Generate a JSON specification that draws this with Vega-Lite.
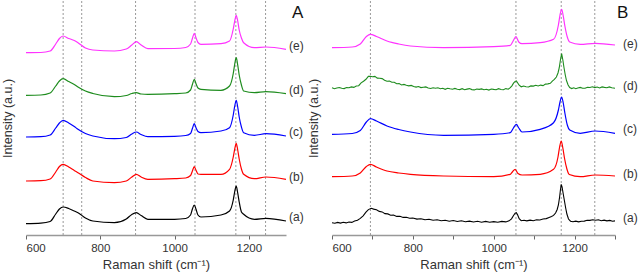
{
"$schema": "https://vega.github.io/schema/vega-lite/v6.json",
"padding": {"left": 1, "top": 0, "right": 0, "bottom": 0},
"bounds": "flush",
"spacing": 46,
"config": {"view": {"stroke": null}, "font": "Liberation Sans"},
"datasets": {
"sp": [
{"p":"A","s":"e","x":600,"y":182.3},{"p":"A","s":"e","x":640,"y":182.5},{"p":"A","s":"e","x":665,"y":184},{"p":"A","s":"e","x":680,"y":191},{"p":"A","s":"e","x":690,"y":196.5},{"p":"A","s":"e","x":700,"y":199},{"p":"A","s":"e","x":715,"y":196.5},{"p":"A","s":"e","x":730,"y":194.5},{"p":"A","s":"e","x":740,"y":192.3},{"p":"A","s":"e","x":760,"y":187},{"p":"A","s":"e","x":780,"y":185},{"p":"A","s":"e","x":838,"y":184},{"p":"A","s":"e","x":870,"y":186},{"p":"A","s":"e","x":885,"y":190},{"p":"A","s":"e","x":897,"y":193.3},{"p":"A","s":"e","x":910,"y":190},{"p":"A","s":"e","x":928,"y":186.3},{"p":"A","s":"e","x":1000,"y":186.5},{"p":"A","s":"e","x":1030,"y":187.5},{"p":"A","s":"e","x":1043,"y":191},{"p":"A","s":"e","x":1048,"y":196.5},{"p":"A","s":"e","x":1053,"y":201.7},{"p":"A","s":"e","x":1058,"y":197},{"p":"A","s":"e","x":1063,"y":192.5},{"p":"A","s":"e","x":1071,"y":190.7},{"p":"A","s":"e","x":1125,"y":191.3},{"p":"A","s":"e","x":1148,"y":194},{"p":"A","s":"e","x":1158,"y":206},{"p":"A","s":"e","x":1162,"y":214},{"p":"A","s":"e","x":1166,"y":219.7},{"p":"A","s":"e","x":1170,"y":214},{"p":"A","s":"e","x":1174,"y":205},{"p":"A","s":"e","x":1180,"y":197},{"p":"A","s":"e","x":1186,"y":192.3},{"p":"A","s":"e","x":1215,"y":187.3},{"p":"A","s":"e","x":1246,"y":188},{"p":"A","s":"e","x":1300,"y":185.7},

{"p":"A","s":"d","x":600,"y":139.7},{"p":"A","s":"d","x":640,"y":140},{"p":"A","s":"d","x":665,"y":142},{"p":"A","s":"d","x":680,"y":149},{"p":"A","s":"d","x":690,"y":154},{"p":"A","s":"d","x":700,"y":156.3},{"p":"A","s":"d","x":715,"y":153.5},{"p":"A","s":"d","x":730,"y":150.5},{"p":"A","s":"d","x":740,"y":148},{"p":"A","s":"d","x":760,"y":144},{"p":"A","s":"d","x":780,"y":141.5},{"p":"A","s":"d","x":838,"y":138.3},{"p":"A","s":"d","x":870,"y":139.5},{"p":"A","s":"d","x":885,"y":141.5},{"p":"A","s":"d","x":897,"y":142.3},{"p":"A","s":"d","x":910,"y":141},{"p":"A","s":"d","x":928,"y":140.7},{"p":"A","s":"d","x":1000,"y":141.3},{"p":"A","s":"d","x":1030,"y":142},{"p":"A","s":"d","x":1043,"y":145},{"p":"A","s":"d","x":1048,"y":150.5},{"p":"A","s":"d","x":1053,"y":155.7},{"p":"A","s":"d","x":1058,"y":151},{"p":"A","s":"d","x":1063,"y":147},{"p":"A","s":"d","x":1071,"y":145.7},{"p":"A","s":"d","x":1125,"y":144.7},{"p":"A","s":"d","x":1148,"y":149},{"p":"A","s":"d","x":1158,"y":161.5},{"p":"A","s":"d","x":1162,"y":171},{"p":"A","s":"d","x":1166,"y":177.3},{"p":"A","s":"d","x":1170,"y":170},{"p":"A","s":"d","x":1174,"y":160},{"p":"A","s":"d","x":1180,"y":150},{"p":"A","s":"d","x":1186,"y":144},{"p":"A","s":"d","x":1215,"y":142.3},{"p":"A","s":"d","x":1246,"y":143.3},{"p":"A","s":"d","x":1300,"y":141.3},

{"p":"A","s":"c","x":600,"y":98},{"p":"A","s":"c","x":640,"y":98.3},{"p":"A","s":"c","x":665,"y":100},{"p":"A","s":"c","x":680,"y":107},{"p":"A","s":"c","x":690,"y":112},{"p":"A","s":"c","x":700,"y":114.7},{"p":"A","s":"c","x":715,"y":112},{"p":"A","s":"c","x":730,"y":108.5},{"p":"A","s":"c","x":740,"y":105.7},{"p":"A","s":"c","x":760,"y":101.5},{"p":"A","s":"c","x":780,"y":99},{"p":"A","s":"c","x":838,"y":96.3},{"p":"A","s":"c","x":870,"y":97.5},{"p":"A","s":"c","x":885,"y":101},{"p":"A","s":"c","x":897,"y":103},{"p":"A","s":"c","x":910,"y":100.5},{"p":"A","s":"c","x":928,"y":98.3},{"p":"A","s":"c","x":1000,"y":98.7},{"p":"A","s":"c","x":1030,"y":99.5},{"p":"A","s":"c","x":1043,"y":101.5},{"p":"A","s":"c","x":1048,"y":106.5},{"p":"A","s":"c","x":1053,"y":111.3},{"p":"A","s":"c","x":1058,"y":107},{"p":"A","s":"c","x":1063,"y":103.5},{"p":"A","s":"c","x":1071,"y":102.3},{"p":"A","s":"c","x":1125,"y":104},{"p":"A","s":"c","x":1148,"y":107.3},{"p":"A","s":"c","x":1158,"y":120},{"p":"A","s":"c","x":1162,"y":129},{"p":"A","s":"c","x":1166,"y":134.7},{"p":"A","s":"c","x":1170,"y":128},{"p":"A","s":"c","x":1174,"y":118},{"p":"A","s":"c","x":1180,"y":108},{"p":"A","s":"c","x":1186,"y":102.3},{"p":"A","s":"c","x":1215,"y":99.7},{"p":"A","s":"c","x":1246,"y":101.3},{"p":"A","s":"c","x":1300,"y":99},

{"p":"A","s":"b","x":600,"y":54},{"p":"A","s":"b","x":640,"y":54.3},{"p":"A","s":"b","x":665,"y":56},{"p":"A","s":"b","x":680,"y":63},{"p":"A","s":"b","x":690,"y":68.5},{"p":"A","s":"b","x":700,"y":70.7},{"p":"A","s":"b","x":715,"y":68},{"p":"A","s":"b","x":730,"y":64.5},{"p":"A","s":"b","x":740,"y":62.3},{"p":"A","s":"b","x":760,"y":57.5},{"p":"A","s":"b","x":780,"y":54},{"p":"A","s":"b","x":838,"y":52.3},{"p":"A","s":"b","x":870,"y":54},{"p":"A","s":"b","x":885,"y":58},{"p":"A","s":"b","x":897,"y":60.7},{"p":"A","s":"b","x":910,"y":58},{"p":"A","s":"b","x":928,"y":55.7},{"p":"A","s":"b","x":1000,"y":56.3},{"p":"A","s":"b","x":1030,"y":57},{"p":"A","s":"b","x":1043,"y":59.5},{"p":"A","s":"b","x":1048,"y":64},{"p":"A","s":"b","x":1053,"y":68.3},{"p":"A","s":"b","x":1058,"y":64.5},{"p":"A","s":"b","x":1063,"y":61},{"p":"A","s":"b","x":1071,"y":60.7},{"p":"A","s":"b","x":1125,"y":60.7},{"p":"A","s":"b","x":1148,"y":65.7},{"p":"A","s":"b","x":1158,"y":78},{"p":"A","s":"b","x":1162,"y":86},{"p":"A","s":"b","x":1166,"y":91.7},{"p":"A","s":"b","x":1170,"y":85},{"p":"A","s":"b","x":1174,"y":76},{"p":"A","s":"b","x":1180,"y":66},{"p":"A","s":"b","x":1186,"y":60.7},{"p":"A","s":"b","x":1215,"y":56.3},{"p":"A","s":"b","x":1246,"y":58},{"p":"A","s":"b","x":1300,"y":55.7},

{"p":"A","s":"a","x":600,"y":11.3},{"p":"A","s":"a","x":640,"y":11.8},{"p":"A","s":"a","x":665,"y":13.5},{"p":"A","s":"a","x":680,"y":21},{"p":"A","s":"a","x":690,"y":26},{"p":"A","s":"a","x":700,"y":28},{"p":"A","s":"a","x":715,"y":26.5},{"p":"A","s":"a","x":730,"y":24},{"p":"A","s":"a","x":740,"y":22.3},{"p":"A","s":"a","x":760,"y":17},{"p":"A","s":"a","x":780,"y":14},{"p":"A","s":"a","x":838,"y":12.3},{"p":"A","s":"a","x":870,"y":16},{"p":"A","s":"a","x":885,"y":20.5},{"p":"A","s":"a","x":897,"y":22.3},{"p":"A","s":"a","x":910,"y":19.5},{"p":"A","s":"a","x":928,"y":15.7},{"p":"A","s":"a","x":1000,"y":15.7},{"p":"A","s":"a","x":1030,"y":16.5},{"p":"A","s":"a","x":1043,"y":20},{"p":"A","s":"a","x":1048,"y":26},{"p":"A","s":"a","x":1053,"y":30},{"p":"A","s":"a","x":1058,"y":25.5},{"p":"A","s":"a","x":1063,"y":20},{"p":"A","s":"a","x":1071,"y":18},{"p":"A","s":"a","x":1125,"y":20},{"p":"A","s":"a","x":1148,"y":24},{"p":"A","s":"a","x":1158,"y":35},{"p":"A","s":"a","x":1162,"y":43.5},{"p":"A","s":"a","x":1166,"y":49},{"p":"A","s":"a","x":1170,"y":42},{"p":"A","s":"a","x":1174,"y":33},{"p":"A","s":"a","x":1180,"y":23},{"p":"A","s":"a","x":1186,"y":20.7},{"p":"A","s":"a","x":1215,"y":15.7},{"p":"A","s":"a","x":1246,"y":16.7},{"p":"A","s":"a","x":1300,"y":14},

{"p":"B","s":"e","x":600,"y":187.3},{"p":"B","s":"e","x":650,"y":188},{"p":"B","s":"e","x":670,"y":191},{"p":"B","s":"e","x":685,"y":198.5},{"p":"B","s":"e","x":695,"y":200.7},{"p":"B","s":"e","x":710,"y":198.5},{"p":"B","s":"e","x":736,"y":194},{"p":"B","s":"e","x":765,"y":191},{"p":"B","s":"e","x":794,"y":189},{"p":"B","s":"e","x":876,"y":187.3},{"p":"B","s":"e","x":1000,"y":188.3},{"p":"B","s":"e","x":1041,"y":189.7},{"p":"B","s":"e","x":1048,"y":194},{"p":"B","s":"e","x":1055,"y":198.3},{"p":"B","s":"e","x":1062,"y":193},{"p":"B","s":"e","x":1070,"y":191.3},{"p":"B","s":"e","x":1115,"y":192.3},{"p":"B","s":"e","x":1148,"y":195.7},{"p":"B","s":"e","x":1160,"y":210},{"p":"B","s":"e","x":1164,"y":220},{"p":"B","s":"e","x":1168,"y":225.7},{"p":"B","s":"e","x":1172,"y":219},{"p":"B","s":"e","x":1176,"y":209},{"p":"B","s":"e","x":1182,"y":198},{"p":"B","s":"e","x":1188,"y":193},{"p":"B","s":"e","x":1214,"y":190.7},{"p":"B","s":"e","x":1251,"y":191.7},{"p":"B","s":"e","x":1300,"y":190},

{"p":"B","s":"d","x":600,"y":147.2},{"p":"B","s":"d","x":606,"y":146.3},{"p":"B","s":"d","x":612,"y":147},{"p":"B","s":"d","x":618,"y":147.5},{"p":"B","s":"d","x":624,"y":146.7},{"p":"B","s":"d","x":630,"y":146.4},{"p":"B","s":"d","x":636,"y":147.4},{"p":"B","s":"d","x":642,"y":147.2},{"p":"B","s":"d","x":648,"y":148.1},{"p":"B","s":"d","x":654,"y":147.6},{"p":"B","s":"d","x":660,"y":149},{"p":"B","s":"d","x":666,"y":149.3},{"p":"B","s":"d","x":672,"y":152.2},{"p":"B","s":"d","x":678,"y":153.8},{"p":"B","s":"d","x":684,"y":155.7},{"p":"B","s":"d","x":690,"y":158.6},{"p":"B","s":"d","x":695,"y":158.8},{"p":"B","s":"d","x":700,"y":158.3},{"p":"B","s":"d","x":706,"y":158.6},{"p":"B","s":"d","x":712,"y":156.9},{"p":"B","s":"d","x":718,"y":156.7},{"p":"B","s":"d","x":724,"y":156.4},{"p":"B","s":"d","x":730,"y":154.7},{"p":"B","s":"d","x":736,"y":153.7},{"p":"B","s":"d","x":742,"y":153.9},{"p":"B","s":"d","x":748,"y":152.8},{"p":"B","s":"d","x":754,"y":152.8},{"p":"B","s":"d","x":760,"y":151.3},{"p":"B","s":"d","x":766,"y":151.4},{"p":"B","s":"d","x":772,"y":150},{"p":"B","s":"d","x":778,"y":150.6},{"p":"B","s":"d","x":784,"y":149.8},{"p":"B","s":"d","x":790,"y":149.1},{"p":"B","s":"d","x":796,"y":149.6},{"p":"B","s":"d","x":802,"y":148.5},{"p":"B","s":"d","x":808,"y":147.9},{"p":"B","s":"d","x":814,"y":148.5},{"p":"B","s":"d","x":820,"y":147.4},{"p":"B","s":"d","x":826,"y":147.8},{"p":"B","s":"d","x":832,"y":148.1},{"p":"B","s":"d","x":838,"y":147},{"p":"B","s":"d","x":844,"y":146.5},{"p":"B","s":"d","x":850,"y":147.3},{"p":"B","s":"d","x":856,"y":146.7},{"p":"B","s":"d","x":862,"y":147.2},{"p":"B","s":"d","x":868,"y":146.2},{"p":"B","s":"d","x":874,"y":146.7},{"p":"B","s":"d","x":880,"y":145.7},{"p":"B","s":"d","x":886,"y":146.7},{"p":"B","s":"d","x":892,"y":146.2},{"p":"B","s":"d","x":898,"y":145.8},{"p":"B","s":"d","x":904,"y":146.6},{"p":"B","s":"d","x":910,"y":145.8},{"p":"B","s":"d","x":916,"y":145.4},{"p":"B","s":"d","x":922,"y":146.3},{"p":"B","s":"d","x":928,"y":145.3},{"p":"B","s":"d","x":934,"y":145.9},{"p":"B","s":"d","x":940,"y":146.4},{"p":"B","s":"d","x":946,"y":145.4},{"p":"B","s":"d","x":952,"y":145.1},{"p":"B","s":"d","x":958,"y":146},{"p":"B","s":"d","x":964,"y":145.6},{"p":"B","s":"d","x":970,"y":146.1},{"p":"B","s":"d","x":976,"y":145.2},{"p":"B","s":"d","x":982,"y":145.8},{"p":"B","s":"d","x":988,"y":144.9},{"p":"B","s":"d","x":994,"y":146},{"p":"B","s":"d","x":1000,"y":145.6},{"p":"B","s":"d","x":1006,"y":145.3},{"p":"B","s":"d","x":1012,"y":146.3},{"p":"B","s":"d","x":1018,"y":145.5},{"p":"B","s":"d","x":1024,"y":145.3},{"p":"B","s":"d","x":1030,"y":146.4},{"p":"B","s":"d","x":1036,"y":145.8},{"p":"B","s":"d","x":1041,"y":147.3},{"p":"B","s":"d","x":1045,"y":149.2},{"p":"B","s":"d","x":1049,"y":151.8},{"p":"B","s":"d","x":1053,"y":153.6},{"p":"B","s":"d","x":1056,"y":154},{"p":"B","s":"d","x":1059,"y":152.3},{"p":"B","s":"d","x":1063,"y":149.8},{"p":"B","s":"d","x":1068,"y":148.2},{"p":"B","s":"d","x":1074,"y":149},{"p":"B","s":"d","x":1080,"y":148.2},{"p":"B","s":"d","x":1086,"y":148},{"p":"B","s":"d","x":1092,"y":149.1},{"p":"B","s":"d","x":1098,"y":148.9},{"p":"B","s":"d","x":1104,"y":149.7},{"p":"B","s":"d","x":1110,"y":149},{"p":"B","s":"d","x":1116,"y":149.9},{"p":"B","s":"d","x":1122,"y":149.4},{"p":"B","s":"d","x":1128,"y":150.9},{"p":"B","s":"d","x":1134,"y":151.1},{"p":"B","s":"d","x":1140,"y":151.7},{"p":"B","s":"d","x":1145,"y":153.8},{"p":"B","s":"d","x":1150,"y":155.6},{"p":"B","s":"d","x":1155,"y":158},{"p":"B","s":"d","x":1159,"y":162},{"p":"B","s":"d","x":1162,"y":167},{"p":"B","s":"d","x":1165,"y":175},{"p":"B","s":"d","x":1168,"y":181.3},{"p":"B","s":"d","x":1171,"y":175},{"p":"B","s":"d","x":1174,"y":167},{"p":"B","s":"d","x":1177,"y":160},{"p":"B","s":"d","x":1180,"y":154.5},{"p":"B","s":"d","x":1184,"y":150},{"p":"B","s":"d","x":1188,"y":147.5},{"p":"B","s":"d","x":1193,"y":146.4},{"p":"B","s":"d","x":1198,"y":147.2},{"p":"B","s":"d","x":1203,"y":146.3},{"p":"B","s":"d","x":1208,"y":147},{"p":"B","s":"d","x":1214,"y":147.6},{"p":"B","s":"d","x":1220,"y":146.8},{"p":"B","s":"d","x":1226,"y":146.7},{"p":"B","s":"d","x":1232,"y":147.8},{"p":"B","s":"d","x":1238,"y":147.5},{"p":"B","s":"d","x":1244,"y":148.2},{"p":"B","s":"d","x":1250,"y":147.4},{"p":"B","s":"d","x":1256,"y":148},{"p":"B","s":"d","x":1262,"y":147.1},{"p":"B","s":"d","x":1268,"y":148.1},{"p":"B","s":"d","x":1274,"y":147.6},{"p":"B","s":"d","x":1280,"y":147.2},{"p":"B","s":"d","x":1286,"y":148.1},{"p":"B","s":"d","x":1292,"y":147.2},{"p":"B","s":"d","x":1300,"y":146.8},

{"p":"B","s":"c","x":600,"y":100.7},{"p":"B","s":"c","x":650,"y":101.5},{"p":"B","s":"c","x":670,"y":104.5},{"p":"B","s":"c","x":685,"y":113},{"p":"B","s":"c","x":695,"y":116.3},{"p":"B","s":"c","x":710,"y":114},{"p":"B","s":"c","x":736,"y":109},{"p":"B","s":"c","x":765,"y":105.5},{"p":"B","s":"c","x":794,"y":103},{"p":"B","s":"c","x":876,"y":99.7},{"p":"B","s":"c","x":1000,"y":100.7},{"p":"B","s":"c","x":1041,"y":102.3},{"p":"B","s":"c","x":1048,"y":106.5},{"p":"B","s":"c","x":1056,"y":110.7},{"p":"B","s":"c","x":1062,"y":107},{"p":"B","s":"c","x":1070,"y":103},{"p":"B","s":"c","x":1115,"y":105.7},{"p":"B","s":"c","x":1148,"y":112.3},{"p":"B","s":"c","x":1160,"y":125},{"p":"B","s":"c","x":1164,"y":133},{"p":"B","s":"c","x":1168,"y":138},{"p":"B","s":"c","x":1172,"y":132},{"p":"B","s":"c","x":1176,"y":122},{"p":"B","s":"c","x":1182,"y":110},{"p":"B","s":"c","x":1188,"y":105},{"p":"B","s":"c","x":1214,"y":101.7},{"p":"B","s":"c","x":1251,"y":104},{"p":"B","s":"c","x":1300,"y":101.7},

{"p":"B","s":"b","x":600,"y":58.3},{"p":"B","s":"b","x":650,"y":59},{"p":"B","s":"b","x":670,"y":62},{"p":"B","s":"b","x":685,"y":68.5},{"p":"B","s":"b","x":695,"y":70.7},{"p":"B","s":"b","x":710,"y":68},{"p":"B","s":"b","x":736,"y":64},{"p":"B","s":"b","x":765,"y":62},{"p":"B","s":"b","x":794,"y":60.7},{"p":"B","s":"b","x":876,"y":59},{"p":"B","s":"b","x":1000,"y":58.3},{"p":"B","s":"b","x":1041,"y":60.7},{"p":"B","s":"b","x":1047,"y":63.5},{"p":"B","s":"b","x":1053,"y":65.7},{"p":"B","s":"b","x":1060,"y":61.5},{"p":"B","s":"b","x":1070,"y":60},{"p":"B","s":"b","x":1115,"y":60.7},{"p":"B","s":"b","x":1148,"y":65.7},{"p":"B","s":"b","x":1159,"y":78},{"p":"B","s":"b","x":1163,"y":88},{"p":"B","s":"b","x":1167,"y":94},{"p":"B","s":"b","x":1171,"y":87},{"p":"B","s":"b","x":1175,"y":77},{"p":"B","s":"b","x":1181,"y":66},{"p":"B","s":"b","x":1187,"y":60.5},{"p":"B","s":"b","x":1214,"y":58.3},{"p":"B","s":"b","x":1251,"y":60},{"p":"B","s":"b","x":1300,"y":59},

{"p":"B","s":"a","x":600,"y":12.3},{"p":"B","s":"a","x":607,"y":11.7},{"p":"B","s":"a","x":614,"y":12.6},{"p":"B","s":"a","x":621,"y":11.9},{"p":"B","s":"a","x":628,"y":12.8},{"p":"B","s":"a","x":635,"y":12.1},{"p":"B","s":"a","x":642,"y":13},{"p":"B","s":"a","x":649,"y":12.6},{"p":"B","s":"a","x":656,"y":13.9},{"p":"B","s":"a","x":663,"y":14.8},{"p":"B","s":"a","x":670,"y":16.6},{"p":"B","s":"a","x":677,"y":19.2},{"p":"B","s":"a","x":684,"y":22.8},{"p":"B","s":"a","x":690,"y":25.4},{"p":"B","s":"a","x":697,"y":26.7},{"p":"B","s":"a","x":703,"y":25.9},{"p":"B","s":"a","x":710,"y":25.2},{"p":"B","s":"a","x":717,"y":23.6},{"p":"B","s":"a","x":724,"y":23.1},{"p":"B","s":"a","x":731,"y":21.4},{"p":"B","s":"a","x":738,"y":21.1},{"p":"B","s":"a","x":745,"y":19.8},{"p":"B","s":"a","x":752,"y":20},{"p":"B","s":"a","x":760,"y":18.6},{"p":"B","s":"a","x":768,"y":18.7},{"p":"B","s":"a","x":776,"y":17.6},{"p":"B","s":"a","x":784,"y":17.8},{"p":"B","s":"a","x":792,"y":16.7},{"p":"B","s":"a","x":800,"y":17},{"p":"B","s":"a","x":810,"y":15.9},{"p":"B","s":"a","x":820,"y":16.3},{"p":"B","s":"a","x":830,"y":15.2},{"p":"B","s":"a","x":840,"y":15.7},{"p":"B","s":"a","x":850,"y":14.7},{"p":"B","s":"a","x":860,"y":15.2},{"p":"B","s":"a","x":870,"y":14.2},{"p":"B","s":"a","x":880,"y":14.8},{"p":"B","s":"a","x":890,"y":13.8},{"p":"B","s":"a","x":900,"y":14.5},{"p":"B","s":"a","x":910,"y":13.5},{"p":"B","s":"a","x":920,"y":14.2},{"p":"B","s":"a","x":930,"y":13.3},{"p":"B","s":"a","x":940,"y":13.9},{"p":"B","s":"a","x":950,"y":13},{"p":"B","s":"a","x":960,"y":13.7},{"p":"B","s":"a","x":970,"y":12.8},{"p":"B","s":"a","x":980,"y":13.6},{"p":"B","s":"a","x":990,"y":12.7},{"p":"B","s":"a","x":1000,"y":13.4},{"p":"B","s":"a","x":1010,"y":12.7},{"p":"B","s":"a","x":1020,"y":13.6},{"p":"B","s":"a","x":1030,"y":13.1},{"p":"B","s":"a","x":1038,"y":14.2},{"p":"B","s":"a","x":1044,"y":16.2},{"p":"B","s":"a","x":1049,"y":19.5},{"p":"B","s":"a","x":1053,"y":21.8},{"p":"B","s":"a","x":1056,"y":22.3},{"p":"B","s":"a","x":1059,"y":20.2},{"p":"B","s":"a","x":1063,"y":16.3},{"p":"B","s":"a","x":1068,"y":14.3},{"p":"B","s":"a","x":1075,"y":14.8},{"p":"B","s":"a","x":1082,"y":14.1},{"p":"B","s":"a","x":1090,"y":14.9},{"p":"B","s":"a","x":1098,"y":14.3},{"p":"B","s":"a","x":1106,"y":15.2},{"p":"B","s":"a","x":1114,"y":15},{"p":"B","s":"a","x":1122,"y":16},{"p":"B","s":"a","x":1130,"y":16.4},{"p":"B","s":"a","x":1137,"y":17.6},{"p":"B","s":"a","x":1143,"y":18.6},{"p":"B","s":"a","x":1148,"y":19.6},{"p":"B","s":"a","x":1153,"y":22},{"p":"B","s":"a","x":1157,"y":25.5},{"p":"B","s":"a","x":1160,"y":30},{"p":"B","s":"a","x":1163,"y":38},{"p":"B","s":"a","x":1165,"y":45},{"p":"B","s":"a","x":1167,"y":50.7},{"p":"B","s":"a","x":1169,"y":48},{"p":"B","s":"a","x":1172,"y":41},{"p":"B","s":"a","x":1175,"y":34},{"p":"B","s":"a","x":1178,"y":27},{"p":"B","s":"a","x":1181,"y":21},{"p":"B","s":"a","x":1185,"y":16},{"p":"B","s":"a","x":1190,"y":13.8},{"p":"B","s":"a","x":1196,"y":13.2},{"p":"B","s":"a","x":1203,"y":13.9},{"p":"B","s":"a","x":1210,"y":13.1},{"p":"B","s":"a","x":1217,"y":13.8},{"p":"B","s":"a","x":1224,"y":13.9},{"p":"B","s":"a","x":1231,"y":14.7},{"p":"B","s":"a","x":1238,"y":14.6},{"p":"B","s":"a","x":1245,"y":15.3},{"p":"B","s":"a","x":1252,"y":14.8},{"p":"B","s":"a","x":1259,"y":15.2},{"p":"B","s":"a","x":1266,"y":14.3},{"p":"B","s":"a","x":1273,"y":14.9},{"p":"B","s":"a","x":1280,"y":14.1},{"p":"B","s":"a","x":1287,"y":14.6},{"p":"B","s":"a","x":1294,"y":13.8},{"p":"B","s":"a","x":1300,"y":14.1}
],
"vl": [
{"p":"A","x":700},{"p":"A","x":750},{"p":"A","x":895},{"p":"A","x":1055},{"p":"A","x":1165},{"p":"A","x":1245},
{"p":"B","x":695},{"p":"B","x":1055},{"p":"B","x":1167},{"p":"B","x":1250}
],
"lb": [
{"p":"A","x":1308,"y":189,"t":"(e)"},{"p":"A","x":1308,"y":145,"t":"(d)"},{"p":"A","x":1308,"y":103,"t":"(c)"},{"p":"A","x":1308,"y":58,"t":"(b)"},{"p":"A","x":1308,"y":18,"t":"(a)"},
{"p":"B","x":1320,"y":191,"t":"(e)"},{"p":"B","x":1320,"y":149,"t":"(d)"},{"p":"B","x":1320,"y":106,"t":"(c)"},{"p":"B","x":1320,"y":61,"t":"(b)"},{"p":"B","x":1320,"y":17,"t":"(a)"}
],
"pl": [
{"p":"A","x":1316,"y":222,"t":"A"},{"p":"B","x":1305,"y":222,"t":"B"}
]
},
"hconcat": [
{
"width": 260, "height": 234,
"layer": [
{"data": {"name": "vl"}, "transform": [{"filter": "datum.p == 'A'"}], "mark": {"type": "rule", "color": "#999999", "strokeDash": [2, 2], "strokeWidth": 1},
 "encoding": {"x": {"field": "x", "type": "quantitative", "scale": {"domain": [600, 1300], "nice": false, "zero": false}}}},
{"data": {"name": "sp"}, "transform": [{"filter": "datum.p == 'A'"}], "mark": {"type": "line", "interpolate": "monotone", "strokeWidth": 1.2},
 "encoding": {
  "x": {"field": "x", "type": "quantitative", "scale": {"domain": [600, 1300], "nice": false, "zero": false},
        "axis": {"values": [600, 700, 800, 900, 1000, 1100, 1200, 1300], "labelExpr": "datum.value % 200 == 0 ? datum.label : ''", "format": "d", "grid": false, "domainColor": "#999999", "domainWidth": 1.5, "tickColor": "#666666", "tickSize": 4, "labelFontSize": 11.5, "labelColor": "#333333", "labelPadding": 3, "title": "Raman shift (cm⁻¹)", "titleFontSize": 13, "titleFontWeight": "normal", "titleColor": "#333333", "titlePadding": 5}},
  "y": {"field": "y", "type": "quantitative", "scale": {"domain": [0, 234], "nice": false, "zero": false},
        "axis": {"domain": false, "ticks": false, "labels": false, "grid": false, "minExtent": 0, "title": "Intensity (a.u.)", "titleFontSize": 12.5, "titleFontWeight": "normal", "titleColor": "#333333", "titlePadding": 12}},
  "color": {"field": "s", "type": "nominal", "scale": {"domain": ["a", "b", "c", "d", "e"], "range": ["#000000", "#ff0000", "#0000ff", "#1e8c1e", "#ff33ff"]}, "legend": null},
  "detail": {"field": "s"}
 }},
{"mark": {"type": "rule", "color": "#444444", "strokeWidth": 1.5},
 "encoding": {"x": {"datum": 600}, "y": {"datum": 0}, "y2": {"datum": 224}}},
{"data": {"name": "lb"}, "transform": [{"filter": "datum.p == 'A'"}], "mark": {"type": "text", "align": "left", "baseline": "middle", "fontSize": 12, "color": "#333333"},
 "encoding": {"x": {"field": "x", "type": "quantitative"}, "y": {"field": "y", "type": "quantitative"}, "text": {"field": "t"}}},
{"data": {"name": "pl"}, "transform": [{"filter": "datum.p == 'A'"}], "mark": {"type": "text", "align": "left", "baseline": "middle", "fontSize": 17, "color": "#111111"},
 "encoding": {"x": {"field": "x", "type": "quantitative"}, "y": {"field": "y", "type": "quantitative"}, "text": {"field": "t"}}}
]
},
{
"width": 283, "height": 234,
"layer": [
{"data": {"name": "vl"}, "transform": [{"filter": "datum.p == 'B'"}], "mark": {"type": "rule", "color": "#999999", "strokeDash": [2, 2], "strokeWidth": 1},
 "encoding": {"x": {"field": "x", "type": "quantitative", "scale": {"domain": [600, 1300], "nice": false, "zero": false}}}},
{"data": {"name": "sp"}, "transform": [{"filter": "datum.p == 'B' && (datum.s == 'b' || datum.s == 'c' || datum.s == 'e')"}], "mark": {"type": "line", "interpolate": "monotone", "strokeWidth": 1.2},
 "encoding": {
  "x": {"field": "x", "type": "quantitative", "scale": {"domain": [600, 1300], "nice": false, "zero": false},
        "axis": {"values": [600, 700, 800, 900, 1000, 1100, 1200, 1300], "labelExpr": "datum.value % 200 == 0 ? datum.label : ''", "format": "d", "grid": false, "domainColor": "#999999", "domainWidth": 1.5, "tickColor": "#666666", "tickSize": 4, "labelFontSize": 11.5, "labelColor": "#333333", "labelPadding": 3, "title": "Raman shift (cm⁻¹)", "titleFontSize": 13, "titleFontWeight": "normal", "titleColor": "#333333", "titlePadding": 5}},
  "y": {"field": "y", "type": "quantitative", "scale": {"domain": [0, 234], "nice": false, "zero": false},
        "axis": {"domain": false, "ticks": false, "labels": false, "grid": false, "minExtent": 0, "title": "Intensity (a.u.)", "titleFontSize": 12.5, "titleFontWeight": "normal", "titleColor": "#333333", "titlePadding": 12}},
  "color": {"field": "s", "type": "nominal", "scale": {"domain": ["a", "b", "c", "d", "e"], "range": ["#000000", "#ff0000", "#0000ff", "#1e8c1e", "#ff33ff"]}, "legend": null},
  "detail": {"field": "s"}
 }},
{"data": {"name": "sp"}, "transform": [{"filter": "datum.p == 'B' && (datum.s == 'a' || datum.s == 'd')"}], "mark": {"type": "line", "interpolate": "linear", "strokeWidth": 1.1},
 "encoding": {
  "x": {"field": "x", "type": "quantitative"},
  "y": {"field": "y", "type": "quantitative"},
  "color": {"field": "s", "type": "nominal", "legend": null},
  "detail": {"field": "s"}
 }},
{"mark": {"type": "rule", "color": "#444444", "strokeWidth": 1.5},
 "encoding": {"x": {"datum": 600}, "y": {"datum": 0}, "y2": {"datum": 224}}},
{"data": {"name": "lb"}, "transform": [{"filter": "datum.p == 'B'"}], "mark": {"type": "text", "align": "left", "baseline": "middle", "fontSize": 12, "color": "#333333"},
 "encoding": {"x": {"field": "x", "type": "quantitative"}, "y": {"field": "y", "type": "quantitative"}, "text": {"field": "t"}}},
{"data": {"name": "pl"}, "transform": [{"filter": "datum.p == 'B'"}], "mark": {"type": "text", "align": "left", "baseline": "middle", "fontSize": 17, "color": "#111111"},
 "encoding": {"x": {"field": "x", "type": "quantitative"}, "y": {"field": "y", "type": "quantitative"}, "text": {"field": "t"}}}
]
}
]
}
